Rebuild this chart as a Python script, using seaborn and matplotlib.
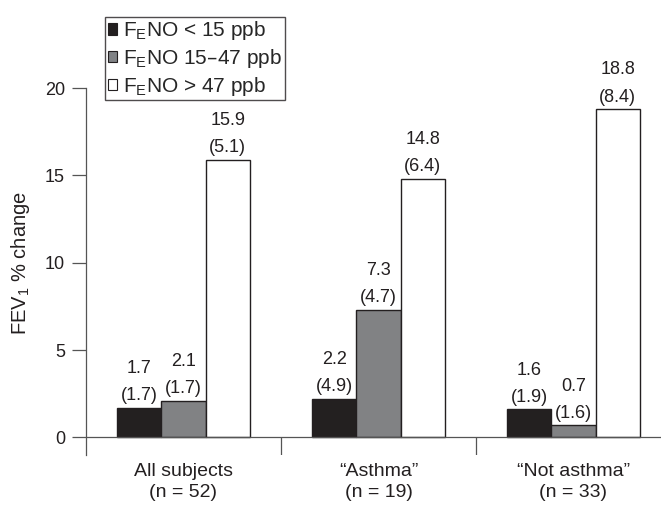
import matplotlib
matplotlib.use("Agg")
import matplotlib.pyplot as plt
import numpy as np
import pandas as pd
import seaborn as sns
from matplotlib.patches import Patch

# values
groups = ["All subjects\n(n = 52)", "\u201cAsthma\u201d\n(n = 19)", "\u201cNot asthma\u201d\n(n = 33)"]
feno_levels = ["F$_\\mathregular{E}$NO < 15 ppb", "F$_\\mathregular{E}$NO 15\u201347 ppb", "F$_\\mathregular{E}$NO > 47 ppb"]
low_mean = [1.7, 2.2, 1.6]
mid_mean = [2.1, 7.3, 0.7]
high_mean = [15.9, 14.8, 18.8]
low_sd = [1.7, 4.9, 1.9]
mid_sd = [1.7, 4.7, 1.6]
high_sd = [5.1, 6.4, 8.4]
bar_colors = ["#231f20", "#808285", "#ffffff"]

sns.set_style("ticks")
plt.rcParams["font.family"] = ["Liberation Sans", "DejaVu Sans"]
plt.rcParams["mathtext.default"] = "regular"

rows = []
for means, sds, level in [(low_mean, low_sd, feno_levels[0]),
                          (mid_mean, mid_sd, feno_levels[1]),
                          (high_mean, high_sd, feno_levels[2])]:
    for g, m, s in zip(groups, means, sds):
        rows.append({"group": g, "level": level, "change": m, "sd": s})
df = pd.DataFrame(rows)

fig = plt.figure(figsize=(6.61, 5.05), dpi=100)
ax = fig.add_axes([0.130, 0.0994, 0.870, 0.7263])

sns.barplot(
    data=df, x="group", y="change", hue="level",
    order=groups, hue_order=feno_levels,
    palette=dict(zip(feno_levels, bar_colors)),
    width=0.68, gap=0, edgecolor="#231f20", linewidth=1.0,
    errorbar=None, legend=False, ax=ax,
)

# value and (sd) labels above bars
for cont, level in zip(ax.containers, feno_levels):
    sub = df[df["level"] == level].set_index("group").loc[groups]
    for patch, m, s in zip(cont.patches, sub["change"], sub["sd"]):
        xc = patch.get_x() + patch.get_width() / 2
        top = patch.get_height()
        ax.annotate(f"({s:.1f})", (xc, top), xytext=(0, 2.5), textcoords="offset points",
                    ha="center", va="bottom", fontsize=13, color="#231f20",
                    annotation_clip=False)
        ax.annotate(f"{m:.1f}", (xc, top), xytext=(0, 22), textcoords="offset points",
                    ha="center", va="bottom", fontsize=13, color="#231f20",
                    annotation_clip=False)

ax.set_ylim(-1, 20)
ax.set_xlim(-0.5, 2.449)
ax.set_yticks([0, 5, 10, 15, 20])
ax.set_xlabel("")
ax.set_ylabel("FEV$_1$ % change", fontsize=14.5, color="#231f20")
ax.yaxis.set_label_coords(-0.094, 0.524)
ax.tick_params(axis="y", length=10, width=0.9, pad=5, labelsize=13,
               color="#555555", labelcolor="#231f20")
ax.tick_params(axis="x", length=0, pad=6, labelsize=14, labelcolor="#231f20")
for lbl in ax.get_xticklabels():
    lbl.set_linespacing(1.3)

sns.despine(ax=ax, top=True, right=True, bottom=True)
ax.spines["left"].set_color("#555555")
ax.spines["left"].set_linewidth(0.9)
ax.axhline(0, color="#555555", linewidth=0.9, clip_on=False)
ax.vlines([0.5, 1.5], -1, 0, color="#555555", linewidth=0.9)

handles = [Patch(facecolor=c, edgecolor="#231f20", linewidth=0.8) for c in bar_colors]
leg = fig.legend(handles, feno_levels, loc="upper left", bbox_to_anchor=(105 / 661, 1 - 17 / 505),
                 frameon=True, fancybox=False, edgecolor="#231f20", fontsize=15,
                 handlelength=0.45, handleheight=0.45, handletextpad=0.3,
                 labelspacing=0.22, borderpad=0.12, borderaxespad=0)
leg.get_frame().set_linewidth(1.0)

fig.savefig("out.png", dpi=100)
